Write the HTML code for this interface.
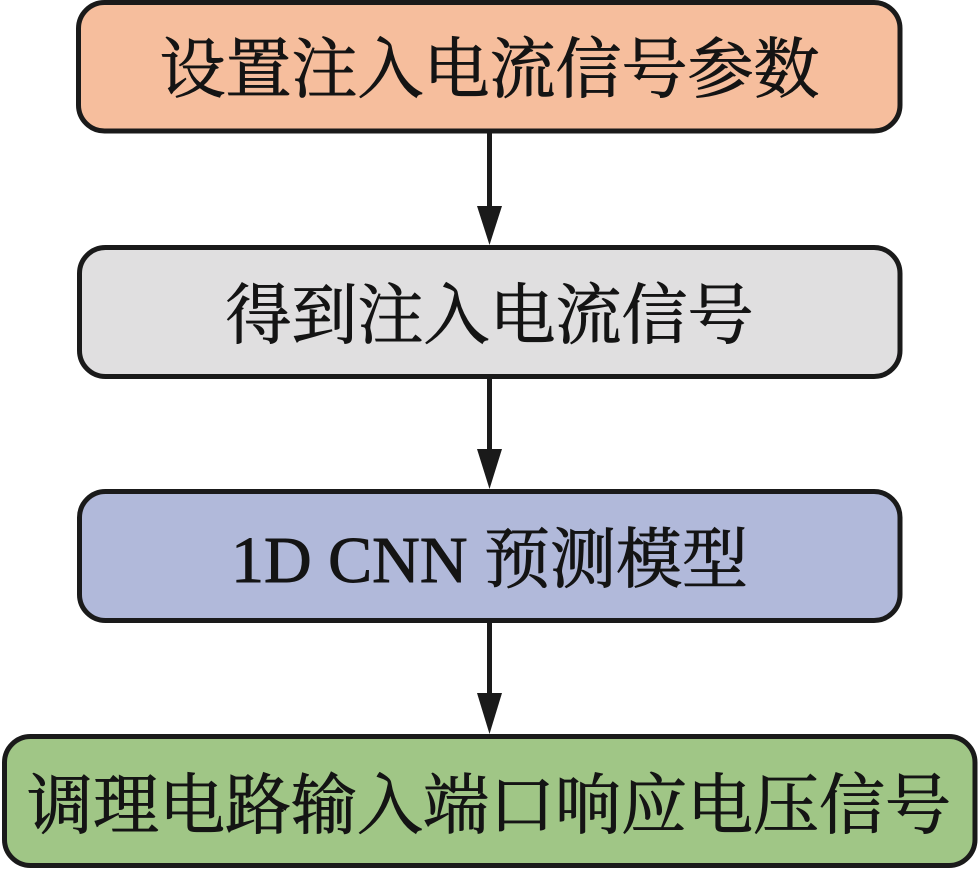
<!DOCTYPE html>
<html>
<head>
<meta charset="utf-8">
<style>
  html, body { margin: 0; padding: 0; background: #ffffff; }
  body { width: 979px; height: 869px; overflow: hidden; }
  svg { display: block; }
  text { font-family: "Liberation Serif", "Noto Serif CJK SC", serif; font-size: 66px; fill: #141414; stroke: #141414; stroke-width: 0.9px; }
</style>
</head>
<body>
<svg width="979" height="869" viewBox="0 0 979 869" xmlns="http://www.w3.org/2000/svg">
  <!-- Box 1 -->
  <rect x="78.5" y="2.5" width="821.5" height="128.5" rx="26" ry="26" fill="#F6BE9D" stroke="#1a1a1a" stroke-width="5"/>
  <text x="489.5" y="92" text-anchor="middle">设置注入电流信号参数</text>

  <!-- Arrow 1 -->
  <line x1="489.5" y1="133" x2="489.5" y2="210" stroke="#1a1a1a" stroke-width="5"/>
  <polygon points="477,206 502,206 489.5,245" fill="#1a1a1a"/>

  <!-- Box 2 -->
  <rect x="79.5" y="247.5" width="820.5" height="129" rx="26" ry="26" fill="#E0DFE0" stroke="#1a1a1a" stroke-width="5"/>
  <text x="489.5" y="338" text-anchor="middle">得到注入电流信号</text>

  <!-- Arrow 2 -->
  <line x1="489.5" y1="379" x2="489.5" y2="452" stroke="#1a1a1a" stroke-width="5"/>
  <polygon points="477,449 502,449 489.5,489" fill="#1a1a1a"/>

  <!-- Box 3 -->
  <rect x="79.5" y="491.5" width="820.5" height="129" rx="26" ry="26" fill="#B1B9DA" stroke="#1a1a1a" stroke-width="5"/>
  <text x="489.5" y="582" text-anchor="middle">1D CNN 预测模型</text>

  <!-- Arrow 3 -->
  <line x1="489.5" y1="623" x2="489.5" y2="697" stroke="#1a1a1a" stroke-width="5"/>
  <polygon points="477,693 502,693 489.5,734" fill="#1a1a1a"/>

  <!-- Box 4 -->
  <rect x="4.5" y="736.5" width="970.5" height="129" rx="26" ry="26" fill="#A0C686" stroke="#1a1a1a" stroke-width="5"/>
  <text x="489" y="828" text-anchor="middle">调理电路输入端口响应电压信号</text>
</svg>
</body>
</html>
